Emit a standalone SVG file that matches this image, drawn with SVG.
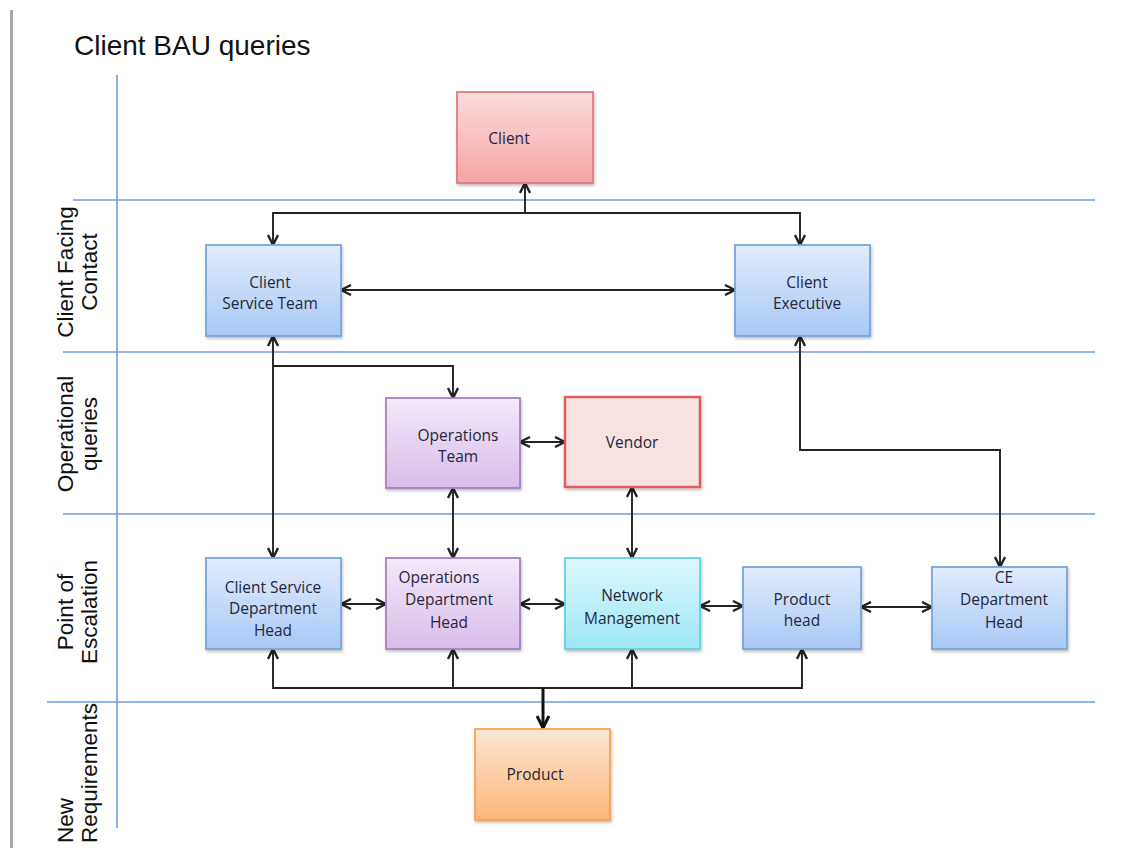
<svg xmlns="http://www.w3.org/2000/svg" width="1148" height="848" viewBox="0 0 1148 848">
  <defs>
    <linearGradient id="gBlue" x1="0" y1="0" x2="0" y2="1">
      <stop offset="0" stop-color="#e2ecfc"/>
      <stop offset="1" stop-color="#a8c8f6"/>
    </linearGradient>
    <linearGradient id="gPurple" x1="0" y1="0" x2="0" y2="1">
      <stop offset="0" stop-color="#f3eafa"/>
      <stop offset="1" stop-color="#d8bce9"/>
    </linearGradient>
    <linearGradient id="gRed" x1="0" y1="0" x2="0" y2="1">
      <stop offset="0" stop-color="#fbdcdc"/>
      <stop offset="1" stop-color="#f6a4a4"/>
    </linearGradient>
    <linearGradient id="gCyan" x1="0" y1="0" x2="0" y2="1">
      <stop offset="0" stop-color="#dcf8fc"/>
      <stop offset="1" stop-color="#9ee8f5"/>
    </linearGradient>
    <linearGradient id="gOrange" x1="0" y1="0" x2="0" y2="1">
      <stop offset="0" stop-color="#fde6d2"/>
      <stop offset="1" stop-color="#fbb67a"/>
    </linearGradient>
    <filter id="shadow" x="-10%" y="-10%" width="125%" height="125%">
      <feDropShadow dx="1" dy="2" stdDeviation="1.5" flood-color="#000" flood-opacity="0.25"/>
    </filter>
    <marker id="arr" viewBox="0 0 12 12" refX="11" refY="6" markerWidth="12" markerHeight="12" markerUnits="userSpaceOnUse" orient="auto-start-reverse">
      <path d="M1,1 L11,6 L1,11" fill="none" stroke="#222" stroke-width="2.4"/>
    </marker>
    <marker id="arrBold" viewBox="0 0 14 14" refX="13" refY="7" markerWidth="14" markerHeight="14" markerUnits="userSpaceOnUse" orient="auto">
      <path d="M1,1 L13,7 L1,13" fill="none" stroke="#111" stroke-width="3"/>
    </marker>
  </defs>
  <style>
    .lane { stroke: #6f9fd8; stroke-width: 1.6; fill: none; }
    .box { stroke-width: 1.8; filter: url(#shadow); }
    .blue { fill: url(#gBlue); stroke: #78a6dc; }
    .purple { fill: url(#gPurple); stroke: #a680c4; }
    .red { fill: url(#gRed); stroke: #e47c7c; }
    .vendor { fill: #f8e2e2; stroke: #e05a5a; stroke-width: 2.4; }
    .cyan { fill: url(#gCyan); stroke: #62d2e2; }
    .orange { fill: url(#gOrange); stroke: #f6a457; }
    .lbl { font-family: "Open Sans", "Liberation Sans", sans-serif; font-size: 15.5px; fill: #26263a; text-anchor: middle; }
    .lanelbl { font-family: "Liberation Sans", Arial, sans-serif; font-size: 22.5px; fill: #111; }
    .title { font-family: "Liberation Sans", Arial, sans-serif; font-size: 28px; fill: #111; }
    .conn { stroke: #222; stroke-width: 1.9; fill: none; }
  </style>

  <!-- page edge -->
  <rect x="10" y="10" width="3" height="838" fill="#a4a6ae"/>

  <text class="title" x="74" y="55">Client BAU queries</text>

  <!-- swimlane grid -->
  <g id="lanes">
    <line class="lane" x1="117" y1="75" x2="117" y2="828"/>
    <line class="lane" x1="73" y1="200" x2="1095" y2="200"/>
    <line class="lane" x1="63" y1="352" x2="1095" y2="352"/>
    <line class="lane" x1="63" y1="514" x2="1095" y2="514"/>
    <line class="lane" x1="47" y1="702" x2="1095" y2="702"/>
  </g>

  <g id="lane-labels">
    <text class="lanelbl" text-anchor="middle" transform="translate(73,272) rotate(-90)">Client Facing</text>
    <text class="lanelbl" text-anchor="middle" transform="translate(97,272) rotate(-90)">Contact</text>
    <text class="lanelbl" text-anchor="middle" transform="translate(73,434) rotate(-90)">Operational</text>
    <text class="lanelbl" text-anchor="middle" transform="translate(97,434) rotate(-90)">queries</text>
    <text class="lanelbl" text-anchor="middle" transform="translate(73,612) rotate(-90)">Point of</text>
    <text class="lanelbl" text-anchor="middle" transform="translate(97,612) rotate(-90)">Escalation</text>
    <text class="lanelbl" text-anchor="start" transform="translate(73,843) rotate(-90)">New</text>
    <text class="lanelbl" text-anchor="start" transform="translate(97,843) rotate(-90)">Requirements</text>
  </g>

  <!-- connectors -->
  <g id="connectors">
    <!-- client to front-line contacts -->
    <polyline class="conn" points="273,245 273,213 800,213 800,245" marker-start="url(#arr)" marker-end="url(#arr)"/>
    <line class="conn" x1="525" y1="213" x2="525" y2="183" marker-end="url(#arr)"/>
    <line class="conn" x1="341" y1="290" x2="735" y2="290" marker-start="url(#arr)" marker-end="url(#arr)"/>
    <!-- client service team down the chain -->
    <line class="conn" x1="273" y1="336" x2="273" y2="558" marker-start="url(#arr)" marker-end="url(#arr)"/>
    <polyline class="conn" points="273,366 453,366 453,398" marker-end="url(#arr)"/>
    <!-- operations -->
    <line class="conn" x1="520" y1="442" x2="565" y2="442" marker-start="url(#arr)" marker-end="url(#arr)"/>
    <line class="conn" x1="453" y1="488" x2="453" y2="558" marker-start="url(#arr)" marker-end="url(#arr)"/>
    <line class="conn" x1="632" y1="487" x2="632" y2="558" marker-start="url(#arr)" marker-end="url(#arr)"/>
    <!-- client executive to CE department head -->
    <polyline class="conn" points="800,336 800,450 1000,450 1000,567" marker-start="url(#arr)" marker-end="url(#arr)"/>
    <!-- escalation row -->
    <line class="conn" x1="341" y1="604" x2="386" y2="604" marker-start="url(#arr)" marker-end="url(#arr)"/>
    <line class="conn" x1="520" y1="604" x2="565" y2="604" marker-start="url(#arr)" marker-end="url(#arr)"/>
    <line class="conn" x1="700" y1="606" x2="743" y2="606" marker-start="url(#arr)" marker-end="url(#arr)"/>
    <line class="conn" x1="861" y1="607" x2="932" y2="607" marker-start="url(#arr)" marker-end="url(#arr)"/>
    <!-- bus to product -->
    <polyline class="conn" points="273,649 273,688 802,688 802,649" marker-start="url(#arr)" marker-end="url(#arr)"/>
    <line class="conn" x1="453" y1="688" x2="453" y2="649" marker-end="url(#arr)"/>
    <line class="conn" x1="632" y1="688" x2="632" y2="649" marker-end="url(#arr)"/>
    <line x1="543" y1="688" x2="543" y2="728" stroke="#111" stroke-width="3" marker-end="url(#arrBold)"/>
  </g>

  <!-- nodes -->
  <g id="client">
    <rect class="box red" x="457" y="92" width="136" height="91"/>
    <text class="lbl" x="509" y="144">Client</text>
  </g>
  <g id="client-service-team">
    <rect class="box blue" x="206" y="245" width="135" height="91"/>
    <text class="lbl" x="270" y="288">Client</text>
    <text class="lbl" x="270" y="309">Service Team</text>
  </g>
  <g id="client-executive">
    <rect class="box blue" x="735" y="245" width="135" height="91"/>
    <text class="lbl" x="807" y="288">Client</text>
    <text class="lbl" x="807" y="309">Executive</text>
  </g>
  <g id="operations-team">
    <rect class="box purple" x="386" y="398" width="134" height="90"/>
    <text class="lbl" x="458" y="441">Operations</text>
    <text class="lbl" x="458" y="462">Team</text>
  </g>
  <g id="vendor">
    <rect class="box vendor" x="565" y="397" width="135" height="90"/>
    <text class="lbl" x="632" y="448">Vendor</text>
  </g>
  <g id="client-service-dept-head">
    <rect class="box blue" x="206" y="558" width="135" height="91"/>
    <text class="lbl" x="273" y="593">Client Service</text>
    <text class="lbl" x="273" y="614">Department</text>
    <text class="lbl" x="273" y="636">Head</text>
  </g>
  <g id="operations-dept-head">
    <rect class="box purple" x="386" y="558" width="134" height="91"/>
    <text class="lbl" x="439" y="583">Operations</text>
    <text class="lbl" x="449" y="605">Department</text>
    <text class="lbl" x="449" y="628">Head</text>
  </g>
  <g id="network-management">
    <rect class="box cyan" x="565" y="558" width="135" height="91"/>
    <text class="lbl" x="632" y="601">Network</text>
    <text class="lbl" x="632" y="624">Management</text>
  </g>
  <g id="product-head">
    <rect class="box blue" x="743" y="567" width="118" height="82"/>
    <text class="lbl" x="802" y="605">Product</text>
    <text class="lbl" x="802" y="626">head</text>
  </g>
  <g id="ce-dept-head">
    <rect class="box blue" x="932" y="567" width="135" height="82"/>
    <text class="lbl" x="1004" y="583">CE</text>
    <text class="lbl" x="1004" y="605">Department</text>
    <text class="lbl" x="1004" y="628">Head</text>
  </g>
  <g id="product">
    <rect class="box orange" x="475" y="729" width="135" height="91"/>
    <text class="lbl" x="535" y="780">Product</text>
  </g>
</svg>
